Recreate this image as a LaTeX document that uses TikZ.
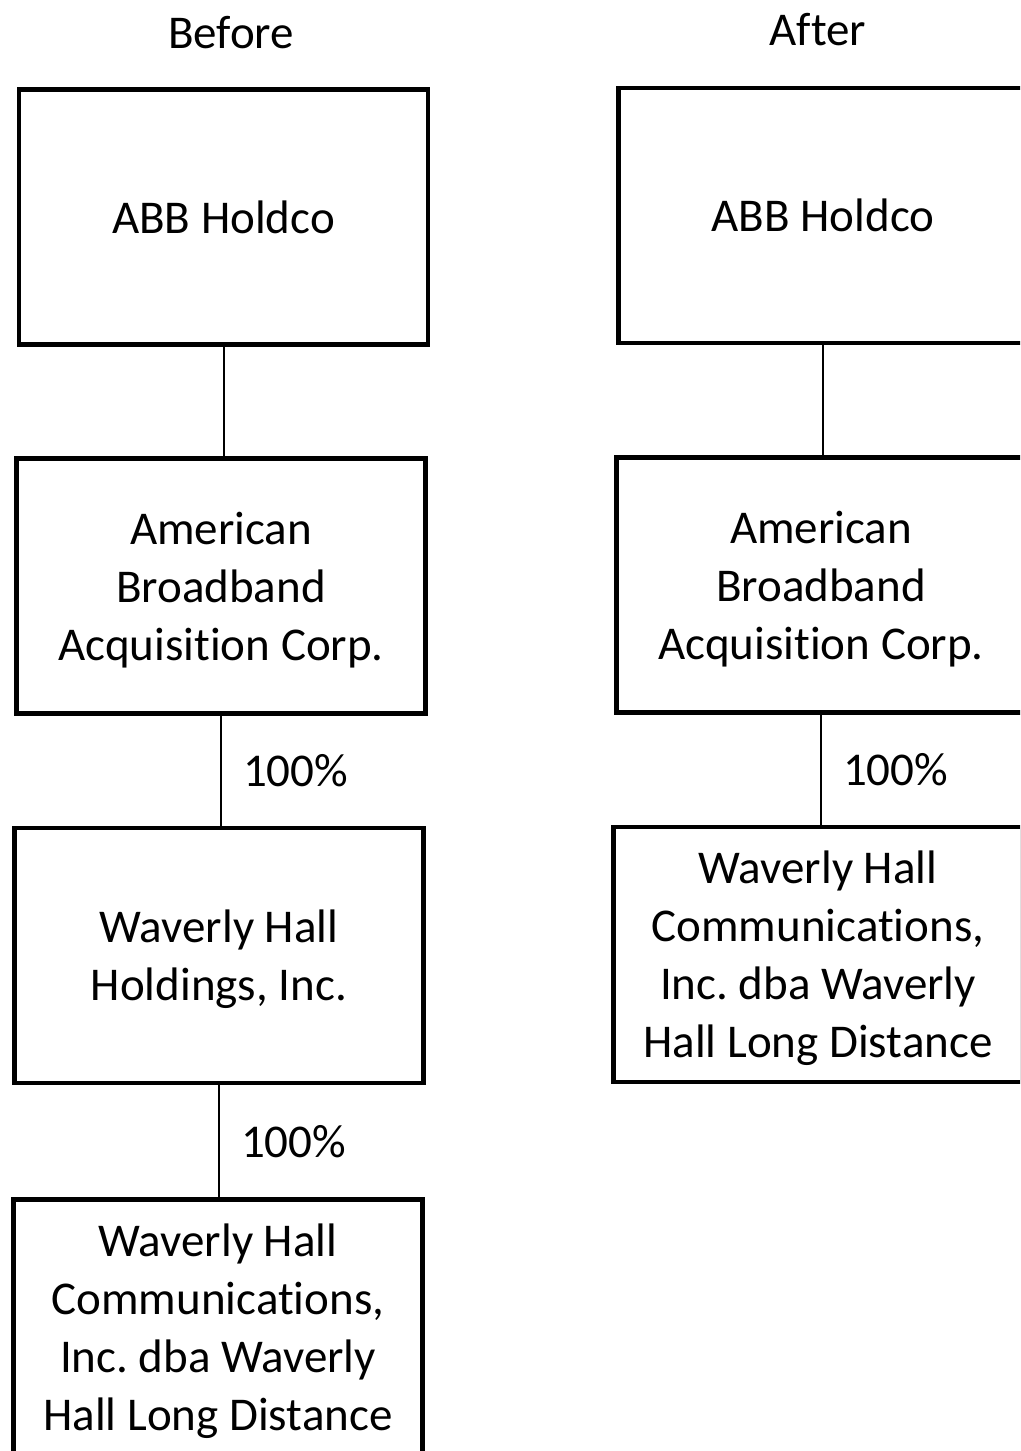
\documentclass[tikz,border=0pt]{standalone}
\usepackage{fontspec}
\setmainfont{Carlito}[Ligatures=NoCommon]
\usetikzlibrary{positioning}
\frenchspacing

\begin{document}
\begin{tikzpicture}
    [x=1pt,y=-1pt,
     entity/.style={draw=black,line width=4.5pt,minimum width=409pt,minimum height=255pt,
                    align=center,inner sep=0pt,font=\fontsize{47}{58}\selectfont},
     link/.style={line width=2pt},
     pct/.style={font=\fontsize{47}{58}\selectfont,inner sep=0pt},
     heading/.style={font=\fontsize{47}{58}\selectfont,inner sep=0pt}]
%page frame, boxes on the right and bottom run off the page
\path[use as bounding box,clip] (0,0) rectangle (1020,1451);

%before
\node[heading] (before) at (231,33) {Before};
\node[entity] (b1) at (223.5,217) {ABB Holdco};
\node[entity] (b2) at (221,586) {\strut American\\Broadband\\Acquisition Corp.};
\node[entity] (b3) at (219,955.5) {\strut Waverly Hall\\Holdings, Inc.};
\node[entity] (b4) at (218,1327) {\strut Waverly Hall\\Communications,\\Inc. dba Waverly\\Hall Long Distance};

\draw[link] (b1.south) -- (b1.south |- b2.north);
\draw[link] (b2.south) -- (b2.south |- b3.north) node[pct,midway,anchor=west,xshift=21pt] (bp1) {100\%};
\draw[link] (b3.south) -- (b3.south |- b4.north) node[pct,midway,anchor=west,xshift=21pt] (bp2) {100\%};

%after
\node[heading] (after) at (818,30) {After};
\node[entity] (a1) at (823,215.5) {ABB Holdco};
\node[entity] (a2) at (821,585) {\strut American\\Broadband\\Acquisition Corp.};
\node[entity] (a3) at (818,954.5) {\strut Waverly Hall\\Communications,\\Inc. dba Waverly\\Hall Long Distance};

\draw[link] (a1.south) -- (a1.south |- a2.north);
\draw[link] (a2.south) -- (a2.south |- a3.north) node[pct,midway,anchor=west,xshift=21pt] (ap1) {100\%};

\end{tikzpicture}
\end{document}
